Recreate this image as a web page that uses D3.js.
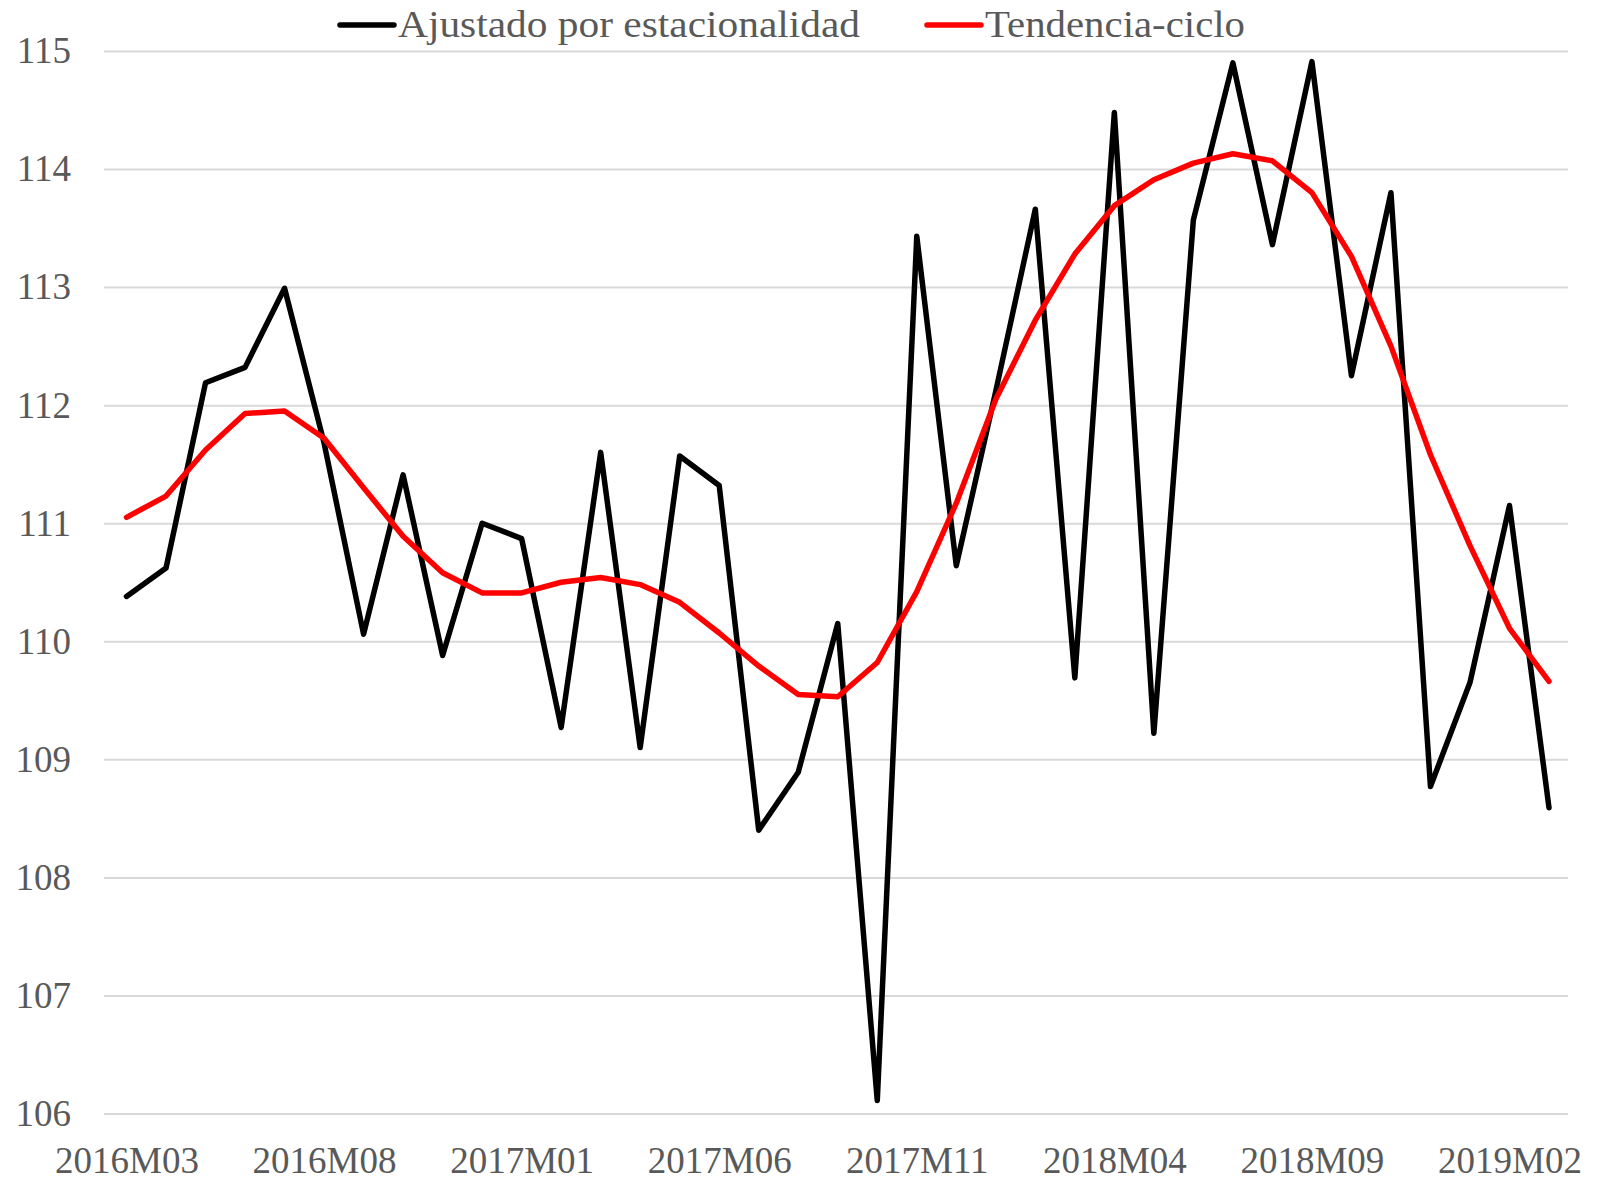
<!DOCTYPE html>
<html>
<head>
<meta charset="utf-8">
<script src="https://cdn.jsdelivr.net/npm/d3@7"></script>
<style>
  body { margin: 0; background: #fff; }
  svg { display: block; font-family: "Liberation Serif", serif; }
  .grid line { stroke: #d9d9d9; stroke-width: 2; }
  .grid path { display: none; }
  .axis text { fill: #595959; }
  .line { fill: none; stroke-width: 5.5; stroke-linejoin: round; stroke-linecap: round; }
</style>
</head>
<body>
<svg width="1598" height="1181"></svg>
<script>
// Months shown on the x axis
var months = ["2016M03", "2016M04", "2016M05", "2016M06", "2016M07", "2016M08", "2016M09", "2016M10",
  "2016M11", "2016M12", "2017M01", "2017M02", "2017M03", "2017M04", "2017M05", "2017M06", "2017M07",
  "2017M08", "2017M09", "2017M10", "2017M11", "2017M12", "2018M01", "2018M02", "2018M03", "2018M04",
  "2018M05", "2018M06", "2018M07", "2018M08", "2018M09", "2018M10", "2018M11", "2018M12", "2019M01",
  "2019M02", "2019M03"];

// Series values
var ajustado = [110.38, 110.62, 112.19, 112.32, 112.99, 111.68, 110.06, 111.41, 109.88, 111.00,
  110.87, 109.27, 111.60, 109.10, 111.57, 111.32, 108.40, 108.89, 110.15, 106.11, 113.43, 110.64,
  112.12, 113.66, 109.69, 114.48, 109.22, 113.57, 114.90, 113.36, 114.91, 112.25, 113.80, 108.77,
  109.65, 111.15, 108.59];

var tendencia = [111.05, 111.23, 111.62, 111.93, 111.95, 111.72, 111.30, 110.89, 110.58, 110.41,
  110.41, 110.50, 110.54, 110.48, 110.33, 110.07, 109.79, 109.55, 109.53, 109.82, 110.42, 111.17,
  112.05, 112.72, 113.28, 113.69, 113.91, 114.05, 114.13, 114.07, 113.80, 113.26, 112.50, 111.58,
  110.81, 110.11, 109.66];

// Tick labels
var xTicks = ["2016M03", "2016M08", "2017M01", "2017M06", "2017M11", "2018M04", "2018M09", "2019M02"];
var yTicks = [106, 107, 108, 109, 110, 111, 112, 113, 114, 115];

var seriesNames = ["Ajustado por estacionalidad", "Tendencia-ciclo"];
var seriesColors = ["#000000", "#ff0000"];

var font = "'Liberation Serif', serif";

var svg = d3.select("svg");

// Scales
var xScale = d3.scalePoint()
    .domain(months)
    .range([126.5, 1549]);

var yScale = d3.scaleLinear()
    .domain([106, 115])
    .range([1113.5, 51]);

// Horizontal grid lines
svg.append("g")
    .attr("class", "grid")
    .attr("transform", "translate(104,0)")
    .call(d3.axisLeft(yScale)
        .tickValues(yTicks)
        .tickSize(-1464)
        .tickFormat(""));

// Y axis labels
var yAxis = svg.append("g")
    .attr("class", "axis")
    .attr("transform", "translate(71,0)")
    .call(d3.axisLeft(yScale).tickValues(yTicks).tickSize(0).tickPadding(0))
    .attr("font-family", font)
    .attr("font-size", 37);
yAxis.select(".domain").remove();
yAxis.selectAll("text")
    .attr("dy", "0.32em");

// X axis labels
var xAxis = svg.append("g")
    .attr("class", "axis")
    .attr("transform", "translate(0,1113.5)")
    .call(d3.axisBottom(xScale).tickValues(xTicks).tickSize(0).tickPadding(0))
    .attr("font-family", font)
    .attr("font-size", 37);
xAxis.select(".domain").remove();
xAxis.selectAll("text")
    .attr("y", 59.5)
    .attr("dy", 0);

// Line generator
var line = d3.line()
    .x(function(d, i) { return xScale(months[i]); })
    .y(function(d) { return yScale(d); });

svg.append("path")
    .datum(ajustado)
    .attr("class", "line")
    .attr("stroke", seriesColors[0])
    .attr("d", line);

svg.append("path")
    .datum(tendencia)
    .attr("class", "line")
    .attr("stroke", seriesColors[1])
    .attr("d", line);

// Legend
var legendX = [340, 927];
var legendWidths = [462, 260];
var legend = svg.selectAll(".legend")
    .data(seriesNames)
    .enter().append("g")
    .attr("class", "legend")
    .attr("transform", function(d, i) { return "translate(" + legendX[i] + ",25)"; });

legend.append("line")
    .attr("x1", 0)
    .attr("x2", 54)
    .attr("stroke", function(d, i) { return seriesColors[i]; })
    .attr("stroke-width", 5.5)
    .attr("stroke-linecap", "round");

legend.append("text")
    .attr("x", 58)
    .attr("y", 12)
    .attr("fill", "#595959")
    .attr("font-family", font)
    .attr("font-size", 38)
    .attr("textLength", function(d, i) { return legendWidths[i]; })
    .attr("lengthAdjust", "spacingAndGlyphs")
    .text(function(d) { return d; });
</script>
</body>
</html>
